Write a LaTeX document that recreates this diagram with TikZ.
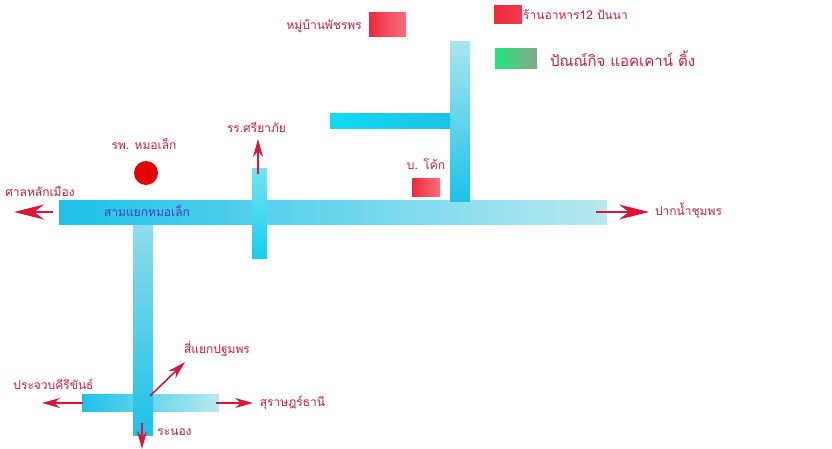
\documentclass[tikz,border=0pt]{standalone}
\usepackage{fontspec}
\newfontfamily\thaifont[Script=Thai]{Loma}
\usetikzlibrary{arrows.meta,positioning}
\definecolor{Ink}{HTML}{C41E3F}
\definecolor{Pointer}{HTML}{DC1438}
\definecolor{RoadDark}{HTML}{1CC2E9}
\definecolor{RoadMid}{HTML}{8FDCEC}
\definecolor{RoadPale}{HTML}{B8E9EF}
\definecolor{SpotDark}{HTML}{EE2A3C}
\definecolor{SpotPale}{HTML}{F7707F}
\definecolor{GreenDark}{HTML}{20E580}
\definecolor{GreenPale}{HTML}{88A888}
\tikzstyle{Road} = [rectangle, inner sep=0pt, outer sep=0pt]
\tikzstyle{Spot} = [rectangle, inner sep=0pt, outer sep=0pt, left color=SpotDark, right color=SpotPale]
\tikzstyle{Place} = [text=Ink, inner sep=0pt, font=\thaifont\fontsize{12}{14}\selectfont]
\tikzstyle{Way} = [draw=Pointer, line width=1.6pt, -{Stealth[length=18pt,width=10pt]}]
\tikzstyle{WayBig} = [draw=Pointer, line width=2pt, -{Stealth[length=30pt,width=15pt]}]

\begin{document}
\begin{tikzpicture}[x=1pt,y=-1pt]
    \useasboundingbox (0,0) rectangle (832,449);
    % roads
    \node[Road, minimum width=137pt, minimum height=17pt, left color=RoadDark, right color=RoadPale] (crossroad) at (150.5,402.5) {};
    \node[Road, minimum width=20pt, minimum height=211pt, top color=RoadMid, bottom color=RoadDark] (southroad) at (143,329.5) {};
    \node[Road, minimum width=548pt, minimum height=23pt, left color=RoadDark, right color=RoadPale] (mainroad) at (333,212.5) {};
    \node[Road, minimum width=15pt, minimum height=89pt, top color=cyan!20!RoadMid, bottom color=cyan!20!RoadDark] (schoolroad) at (259.5,213.5) {};
    \node[Road, minimum width=20pt, minimum height=160pt, top color=RoadPale!90!RoadDark, bottom color=RoadDark] (northroad) at (460,122) {};
    \node[Road, minimum width=120pt, minimum height=15pt, left color=cyan!40!RoadDark, right color=RoadDark] (sideroad) at (390,121.5) {};
    % spots
    \node[Spot, minimum width=37pt, minimum height=24pt] (village) at (387.5,25) {};
    \node[Spot, minimum width=28pt, minimum height=18pt, left color=SpotDark, right color=SpotDark!75!SpotPale] (food) at (508,15) {};
    \node[Spot, minimum width=42pt, minimum height=20pt, left color=GreenDark, right color=GreenPale] (account) at (516,59) {};
    \node[Spot, minimum width=28pt, minimum height=18pt] (coke) at (426,188) {};
    \node[circle, fill=red!90!black, minimum size=24pt, inner sep=0pt] (hospital) at (146,173) {};
    % labels
    \node[Place, left=7pt of village, yshift=-1pt] (villagetext) {หมู่บ้านพัชรพร};
    \node[Place, right=1pt of food] (foodtext) {ร้านอาหาร12 ปันนา};
    \node[Place, right=13pt of account, font=\thaifont\fontsize{15}{17}\selectfont] (accounttext) {ปัณณ์กิจ แอคเคาน์ ติ้ง};
    \node[Place, above=9pt of coke] (coketext) {บ. โค้ก};
    \node[Place, above=11pt of hospital, xshift=-2pt] (hospitaltext) {รพ. หมอเล็ก};
    \node[Place, text=blue!50!gray] (junctiontext) at (147,211) {สามแยกหมอเล็ก};
    \node[Place] (lefttext) at (40,191) {ศาลหลักเมือง};
    \node[Place] (schooltext) at (256.5,127) {รร.ศรียาภัย};
    \node[Place] (mouthtext) at (688.5,211) {ปากน้ำชุมพร};
    \node[Place] (cornertext) at (217,349) {สี่แยกปฐมพร};
    \node[Place] (westtext) at (53.5,384) {ประจวบคีรีขันธ์};
    \node[Place] (easttext) at (292.5,403) {สุราษฎร์ธานี};
    \node[Place] (southtext) at (174.5,432) {ระนอง};
    % arrow ends
    \coordinate (a1) at (53,212);
    \coordinate (a2) at (14,212);
    \coordinate (b1) at (596,212);
    \coordinate (b2) at (649,212);
    \coordinate (c1) at (258,174);
    \coordinate (c2) at (258,139);
    \coordinate (d1) at (150,396);
    \coordinate (d2) at (185,362);
    \coordinate (e1) at (83,403);
    \coordinate (e2) at (42,403);
    \coordinate (f1) at (216,403);
    \coordinate (f2) at (253,403);
    \coordinate (g1) at (142,423);
    \coordinate (g2) at (142,449);
    \draw[WayBig] (a1) to (a2);
    \draw[WayBig] (b1) to (b2);
    \draw[Way] (c1) to (c2);
    \draw[Way] (d1) to (d2);
    \draw[Way] (e1) to (e2);
    \draw[Way] (f1) to (f2);
    \draw[Way] (g1) to (g2);
  \end{tikzpicture}
\end{document}
